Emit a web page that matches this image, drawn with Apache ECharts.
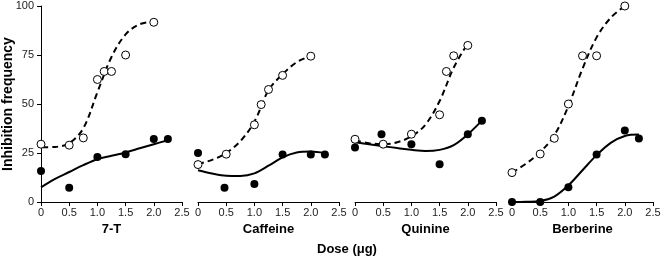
<!DOCTYPE html>
<html>
<head>
<meta charset="utf-8">
<script src="https://cdn.jsdelivr.net/npm/echarts@6/dist/echarts.min.js"></script>
<style>
  html, body { margin: 0; padding: 0; background: #fff; }
  #chart { width: 661px; height: 261px; }
</style>
</head>
<body>
<div id="chart"></div>
<script>
var drugs = ['7-T', 'Caffeine', 'Quinine', 'Berberine'];
var xTickLabels = ['0', '0.5', '1.0', '1.5', '2.0', '2.5'];
var yTickLabels = ['0', '25', '50', '75', '100'];

// open circles (dashed fit) / filled circles (solid fit), [dose, frequency]
var sevenTOpen = [[0, 29.5], [0.5, 29], [0.75, 32.7], [1.0, 62.5], [1.12, 66.6], [1.25, 66.6], [1.5, 75], [2.0, 91.7]];
var sevenTFilled = [[0, 15.8], [0.5, 7.3], [1.0, 23], [1.5, 24.4], [2.0, 32.2], [2.25, 32.2]];
var sevenTDashFit = [[0.02, 27.9], [0.25, 28.1], [0.5, 30], [0.75, 37.6], [1.0, 56], [1.25, 74], [1.5, 85.5], [1.75, 90.7], [2.0, 92]];
var sevenTSolidFit = [[0, 7.5], [0.25, 11.8], [0.5, 15.3], [0.75, 18.8], [1.0, 21.8], [1.25, 23.6], [1.5, 25.3], [1.75, 27.4], [2.0, 29.5], [2.25, 31.5]];

var caffeineOpen = [[0, 19.1], [0.5, 24.4], [1.0, 39.4], [1.12, 49.7], [1.25, 57.4], [1.5, 64.6], [2.0, 74.4]];
var caffeineFilled = [[0, 25], [0.47, 7.3], [1.0, 9.2], [1.5, 24.2], [2.0, 24.2], [2.25, 24.2]];
var caffeineDashFit = [[0, 19.4], [0.25, 21.5], [0.5, 25], [0.75, 31], [1.0, 41], [1.25, 57], [1.5, 65.2], [1.75, 71.3], [2.0, 74.5]];
var caffeineSolidFit = [[0, 16.2], [0.25, 14.5], [0.5, 13.4], [0.75, 13.3], [1.0, 14.6], [1.25, 18.5], [1.5, 22.8], [1.75, 25.3], [2.0, 25.8], [2.25, 25]];

var quinineOpen = [[0, 32], [0.5, 29.5], [1.0, 34.6], [1.5, 44.5], [1.62, 66.6], [1.75, 74.6], [2.0, 79.9]];
var quinineFilled = [[0, 27.8], [0.47, 34.6], [1.0, 29.5], [1.5, 19.3], [2.0, 34.6], [2.25, 41.4]];
var quinineDashFit = [[0, 31.5], [0.25, 30], [0.5, 29.5], [0.75, 30.5], [1.0, 33.5], [1.25, 39.5], [1.5, 51.5], [1.75, 68.5], [2.0, 81]];
var quinineSolidFit = [[0, 30.5], [0.25, 29.5], [0.5, 28.5], [0.75, 27.5], [1.0, 26.6], [1.25, 26], [1.5, 26.6], [1.75, 29], [2.0, 34.5], [2.25, 41.5]];

var berberineOpen = [[0, 15], [0.5, 24.5], [0.75, 32.5], [1.0, 50], [1.25, 74.6], [1.5, 74.6], [2.0, 100]];
var berberineFilled = [[0, 0], [0.5, 0], [1.0, 7.5], [1.5, 24.2], [2.0, 36.5], [2.25, 32.4]];
var berberineDashFit = [[0, 15], [0.25, 19.6], [0.5, 25.5], [0.75, 34], [1.0, 49], [1.25, 68], [1.5, 84], [1.75, 94], [2.0, 100]];
var berberineSolidFit = [[0, 0], [0.25, 0.1], [0.5, 0.5], [0.75, 2.8], [1.0, 8.5], [1.25, 16.2], [1.5, 23.9], [1.75, 30.2], [2.0, 33.7], [2.25, 34.4]];

var panels = [
  [sevenTOpen, sevenTFilled, sevenTDashFit, sevenTSolidFit],
  [caffeineOpen, caffeineFilled, caffeineDashFit, caffeineSolidFit],
  [quinineOpen, quinineFilled, quinineDashFit, quinineSolidFit],
  [berberineOpen, berberineFilled, berberineDashFit, berberineSolidFit]
];

var font = 'Liberation Sans, Arial, sans-serif';
var grids = [], xAxes = [], yAxes = [], series = [];

for (var i = 0; i < drugs.length; i++) {
  grids.push({ left: 41 + 157 * i, top: 6, width: 141, height: 196, outerBoundsMode: 'none' });
  xAxes.push({
    gridIndex: i, type: 'value', min: 0, max: 2.5, interval: 0.5,
    name: drugs[i], nameLocation: 'middle', nameGap: 21, nameMoveOverlap: false,
    nameTextStyle: { color: '#000', fontFamily: font, fontSize: 13, fontWeight: 'bold' },
    axisLine: { show: true, onZero: false, lineStyle: { color: '#000', width: 1 } },
    axisTick: { show: true, length: 4, lineStyle: { color: '#000' } },
    axisLabel: {
      margin: 5, color: '#222', fontFamily: font, fontSize: 11,
      formatter: function (v) { return xTickLabels[Math.round(v / 0.5)]; }
    },
    splitLine: { show: false }
  });
  yAxes.push({
    gridIndex: i, type: 'value', min: 0, max: 100, interval: 25, show: i === 0,
    name: i === 0 ? 'Inhibition frequency' : '', nameLocation: 'middle', nameGap: 26, nameMoveOverlap: false,
    nameTextStyle: { color: '#000', fontFamily: font, fontSize: 14, fontWeight: 'bold' },
    axisLine: { show: true, lineStyle: { color: '#000', width: 1 } },
    axisTick: { show: true, length: 4, lineStyle: { color: '#000' } },
    axisLabel: {
      margin: 7, color: '#222', fontFamily: font, fontSize: 11,
      formatter: function (v) { return yTickLabels[Math.round(v / 25)]; }
    },
    splitLine: { show: false }
  });
  var p = panels[i];
  series.push({
    type: 'line', xAxisIndex: i, yAxisIndex: i, data: p[2], smooth: 0.35, showSymbol: false, clip: false,
    lineStyle: { color: '#000', width: 2, type: [6, 4] }, z: 2
  });
  series.push({
    type: 'line', xAxisIndex: i, yAxisIndex: i, data: p[3], smooth: 0.35, showSymbol: false, clip: false,
    lineStyle: { color: '#000', width: 2 }, z: 2
  });
  series.push({
    type: 'scatter', xAxisIndex: i, yAxisIndex: i, data: p[0], symbol: 'circle', symbolSize: 8, clip: false,
    itemStyle: { color: '#fff', borderColor: '#000', borderWidth: 1, opacity: 1 }, z: 3
  });
  series.push({
    type: 'scatter', xAxisIndex: i, yAxisIndex: i, data: p[1], symbol: 'circle', symbolSize: 8, clip: false,
    itemStyle: { color: '#000', opacity: 1 }, z: 3
  });
}

var option = {
  animation: false,
  backgroundColor: '#fff',
  grid: grids,
  xAxis: xAxes,
  yAxis: yAxes,
  series: series,
  graphic: [{
    type: 'text', left: 348 - 31, top: 243,
    style: { text: 'Dose (μg)', fill: '#000', font: 'bold 13px ' + font }
  }]
};

var myChart = echarts.init(document.getElementById('chart'));
myChart.setOption(option);
</script>
</body>
</html>
